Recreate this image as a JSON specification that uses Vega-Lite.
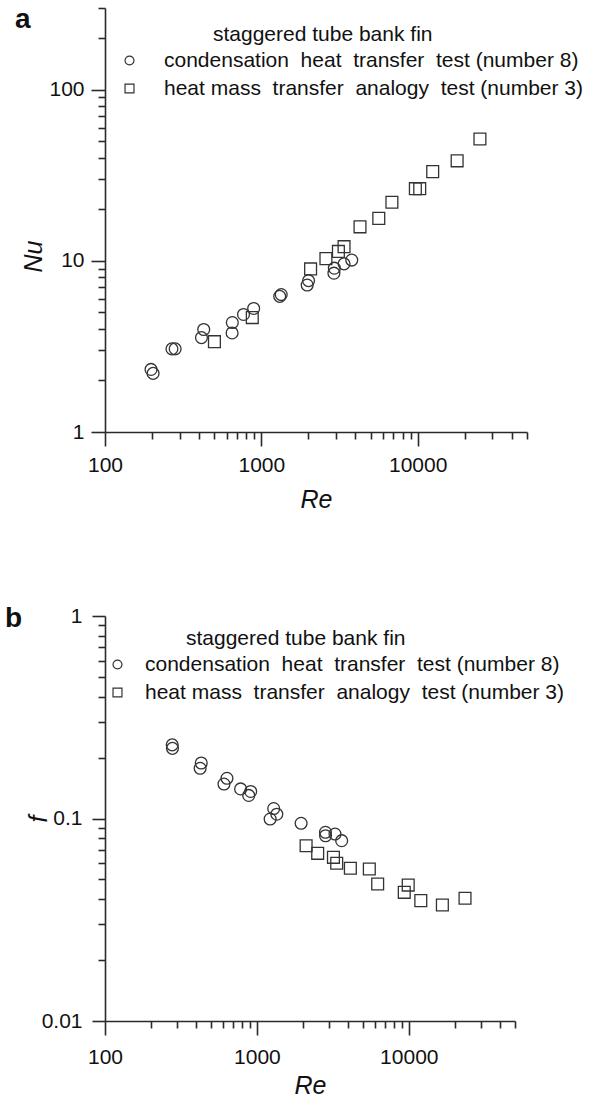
{
  "$schema": "https://vega.github.io/schema/vega-lite/v6.json",
  "background": "white",
  "padding": {"left": 5, "top": 6, "right": 0, "bottom": 0},
  "config": {
    "font": "Liberation Sans",
    "view": {"stroke": null},
    "axis": {
      "grid": false,
      "domainColor": "#2a2a2a",
      "domainWidth": 1.6,
      "tickColor": "#2a2a2a",
      "tickWidth": 1.6,
      "labelColor": "#111",
      "labelFont": "Liberation Sans",
      "labelOverlap": false,
      "labelFlush": false,
      "titleColor": "#111",
      "titleFont": "Liberation Sans",
      "titleFontSize": 25,
      "titleFontStyle": "italic",
      "titleFontWeight": "normal"
    },
    "legend": {
      "orient": "none",
      "padding": 0,
      "titleFont": "Liberation Sans",
      "titleFontSize": 21,
      "titleFontWeight": "normal",
      "titleColor": "#111",
      "titleAnchor": "start",
      "titlePadding": 5,
      "titleLimit": 600,
      "labelFont": "Liberation Sans",
      "labelFontSize": 21,
      "labelColor": "#111",
      "labelLimit": 600,
      "symbolSize": 80,
      "symbolStrokeColor": "#333",
      "symbolStrokeWidth": 1.2,
      "symbolFillColor": "transparent",
      "rowPadding": 6
    },
    "title": {
      "anchor": "start",
      "frame": "group",
      "fontSize": 28,
      "fontWeight": "bold",
      "color": "#111",
      "font": "Liberation Sans"
    }
  },
  "datasets": {
    "nusselt": [
      {"Re": 197, "Nu": 2.32, "test": "condensation heat transfer test (number 8)"},
      {"Re": 203, "Nu": 2.2, "test": "condensation heat transfer test (number 8)"},
      {"Re": 268, "Nu": 3.06, "test": "condensation heat transfer test (number 8)"},
      {"Re": 281, "Nu": 3.06, "test": "condensation heat transfer test (number 8)"},
      {"Re": 414, "Nu": 3.56, "test": "condensation heat transfer test (number 8)"},
      {"Re": 428, "Nu": 3.97, "test": "condensation heat transfer test (number 8)"},
      {"Re": 650, "Nu": 3.79, "test": "condensation heat transfer test (number 8)"},
      {"Re": 652, "Nu": 4.36, "test": "condensation heat transfer test (number 8)"},
      {"Re": 769, "Nu": 4.86, "test": "condensation heat transfer test (number 8)"},
      {"Re": 893, "Nu": 5.27, "test": "condensation heat transfer test (number 8)"},
      {"Re": 1310, "Nu": 6.2, "test": "condensation heat transfer test (number 8)"},
      {"Re": 1340, "Nu": 6.35, "test": "condensation heat transfer test (number 8)"},
      {"Re": 1964, "Nu": 7.22, "test": "condensation heat transfer test (number 8)"},
      {"Re": 2004, "Nu": 7.66, "test": "condensation heat transfer test (number 8)"},
      {"Re": 2912, "Nu": 8.47, "test": "condensation heat transfer test (number 8)"},
      {"Re": 2930, "Nu": 9.06, "test": "condensation heat transfer test (number 8)"},
      {"Re": 3380, "Nu": 9.6, "test": "condensation heat transfer test (number 8)"},
      {"Re": 3785, "Nu": 10.1, "test": "condensation heat transfer test (number 8)"},
      {"Re": 501, "Nu": 3.37, "test": "heat mass transfer analogy test (number 3)"},
      {"Re": 875, "Nu": 4.66, "test": "heat mass transfer analogy test (number 3)"},
      {"Re": 2065, "Nu": 8.97, "test": "heat mass transfer analogy test (number 3)"},
      {"Re": 2588, "Nu": 10.3, "test": "heat mass transfer analogy test (number 3)"},
      {"Re": 3110, "Nu": 11.35, "test": "heat mass transfer analogy test (number 3)"},
      {"Re": 3380, "Nu": 12.1, "test": "heat mass transfer analogy test (number 3)"},
      {"Re": 4275, "Nu": 15.8, "test": "heat mass transfer analogy test (number 3)"},
      {"Re": 5637, "Nu": 17.7, "test": "heat mass transfer analogy test (number 3)"},
      {"Re": 6838, "Nu": 22.0, "test": "heat mass transfer analogy test (number 3)"},
      {"Re": 9660, "Nu": 26.4, "test": "heat mass transfer analogy test (number 3)"},
      {"Re": 10300, "Nu": 26.4, "test": "heat mass transfer analogy test (number 3)"},
      {"Re": 12470, "Nu": 33.2, "test": "heat mass transfer analogy test (number 3)"},
      {"Re": 17870, "Nu": 38.4, "test": "heat mass transfer analogy test (number 3)"},
      {"Re": 25000, "Nu": 51.5, "test": "heat mass transfer analogy test (number 3)"}
    ],
    "friction": [
      {"Re": 277, "f": 0.231, "test": "condensation heat transfer test (number 8)"},
      {"Re": 278, "f": 0.222, "test": "condensation heat transfer test (number 8)"},
      {"Re": 430, "f": 0.188, "test": "condensation heat transfer test (number 8)"},
      {"Re": 423, "f": 0.177, "test": "condensation heat transfer test (number 8)"},
      {"Re": 635, "f": 0.158, "test": "condensation heat transfer test (number 8)"},
      {"Re": 607, "f": 0.148, "test": "condensation heat transfer test (number 8)"},
      {"Re": 781, "f": 0.14, "test": "condensation heat transfer test (number 8)"},
      {"Re": 910, "f": 0.136, "test": "condensation heat transfer test (number 8)"},
      {"Re": 883, "f": 0.13, "test": "condensation heat transfer test (number 8)"},
      {"Re": 1290, "f": 0.112, "test": "condensation heat transfer test (number 8)"},
      {"Re": 1352, "f": 0.105, "test": "condensation heat transfer test (number 8)"},
      {"Re": 1222, "f": 0.0994, "test": "condensation heat transfer test (number 8)"},
      {"Re": 1954, "f": 0.0947, "test": "condensation heat transfer test (number 8)"},
      {"Re": 2826, "f": 0.0855, "test": "condensation heat transfer test (number 8)"},
      {"Re": 2830, "f": 0.0822, "test": "condensation heat transfer test (number 8)"},
      {"Re": 3267, "f": 0.0838, "test": "condensation heat transfer test (number 8)"},
      {"Re": 3614, "f": 0.0777, "test": "condensation heat transfer test (number 8)"},
      {"Re": 2108, "f": 0.0734, "test": "heat mass transfer analogy test (number 3)"},
      {"Re": 2512, "f": 0.0673, "test": "heat mass transfer analogy test (number 3)"},
      {"Re": 3190, "f": 0.0643, "test": "heat mass transfer analogy test (number 3)"},
      {"Re": 3352, "f": 0.0601, "test": "heat mass transfer analogy test (number 3)"},
      {"Re": 4123, "f": 0.0568, "test": "heat mass transfer analogy test (number 3)"},
      {"Re": 5495, "f": 0.0563, "test": "heat mass transfer analogy test (number 3)"},
      {"Re": 6237, "f": 0.0475, "test": "heat mass transfer analogy test (number 3)"},
      {"Re": 9333, "f": 0.0432, "test": "heat mass transfer analogy test (number 3)"},
      {"Re": 9908, "f": 0.0469, "test": "heat mass transfer analogy test (number 3)"},
      {"Re": 11990, "f": 0.0393, "test": "heat mass transfer analogy test (number 3)"},
      {"Re": 16630, "f": 0.0374, "test": "heat mass transfer analogy test (number 3)"},
      {"Re": 23440, "f": 0.0404, "test": "heat mass transfer analogy test (number 3)"}
    ]
  },
  "spacing": 93,
  "resolve": {
    "scale": {"x": "independent", "y": "independent", "shape": "independent"},
    "legend": {"shape": "independent"}
  },
  "vconcat": [
    {
      "width": 422,
      "height": 424,
      "title": {"text": "a", "dx": -90, "offset": -27},
      "data": {"name": "nusselt"},
      "mark": {"type": "point", "filled": false, "color": "#333", "strokeWidth": 1.3, "size": 140, "opacity": 1},
      "encoding": {
        "x": {
          "field": "Re",
          "type": "quantitative",
          "scale": {"type": "log", "domain": [100, 50000], "nice": false},
          "axis": {
            "title": "Re",
            "values": [100, 200, 300, 400, 500, 600, 700, 800, 900, 1000, 2000, 3000, 4000, 5000, 6000, 7000, 8000, 9000, 10000, 20000, 30000, 40000, 50000],
            "format": "d",
            "labelExpr": "indexof([100, 1000, 10000], datum.value) >= 0 ? datum.label : ''",
            "labelFontSize": {"condition": {"test": "indexof([100, 1000, 10000], datum.value) >= 0", "value": 21}, "value": 0},
            "tickSize": {"condition": {"test": "indexof([100, 1000, 10000], datum.value) >= 0", "value": 14}, "value": 7},
            "labelPadding": 8,
            "titlePadding": 12
          }
        },
        "y": {
          "field": "Nu",
          "type": "quantitative",
          "scale": {"type": "log", "domain": [1, 300], "nice": false},
          "axis": {
            "title": "Nu",
            "titleY": 248,
            "values": [1, 2, 3, 4, 5, 6, 7, 8, 9, 10, 20, 30, 40, 50, 60, 70, 80, 90, 100, 200, 300],
            "format": "d",
            "labelExpr": "indexof([1, 10, 100], datum.value) >= 0 ? datum.label : ''",
            "labelFontSize": {"condition": {"test": "indexof([1, 10, 100], datum.value) >= 0", "value": 21}, "value": 0},
            "tickSize": {"condition": {"test": "indexof([1, 10, 100], datum.value) >= 0", "value": 14}, "value": 7},
            "labelPadding": 7,
            "titlePadding": 2
          }
        },
        "shape": {
          "field": "test",
          "type": "nominal",
          "scale": {
            "domain": ["condensation heat transfer test (number 8)", "heat mass transfer analogy test (number 3)"],
            "range": ["circle", "square"]
          },
          "legend": {
            "title": "staggered tube bank fin",
            "legendX": 108,
            "legendY": 16,
            "symbolOffset": -94,
            "labelOffset": 24,
            "labelExpr": "datum.label == 'condensation heat transfer test (number 8)' ? 'condensation\u00a0 heat\u00a0 transfer\u00a0 test (number 8)' : 'heat mass\u00a0 transfer\u00a0 analogy\u00a0 test (number 3)'"
          }
        }
      }
    },
    {
      "width": 410,
      "height": 405,
      "title": {"text": "b", "dx": -100, "offset": -28},
      "data": {"name": "friction"},
      "mark": {"type": "point", "filled": false, "color": "#333", "strokeWidth": 1.3, "size": 140, "opacity": 1},
      "encoding": {
        "x": {
          "field": "Re",
          "type": "quantitative",
          "scale": {"type": "log", "domain": [100, 50000], "nice": false},
          "axis": {
            "title": "Re",
            "values": [100, 200, 300, 400, 500, 600, 700, 800, 900, 1000, 2000, 3000, 4000, 5000, 6000, 7000, 8000, 9000, 10000, 20000, 30000, 40000, 50000],
            "format": "d",
            "labelExpr": "indexof([100, 1000, 10000], datum.value) >= 0 ? datum.label : ''",
            "labelFontSize": {"condition": {"test": "indexof([100, 1000, 10000], datum.value) >= 0", "value": 21}, "value": 0},
            "tickSize": {"condition": {"test": "indexof([100, 1000, 10000], datum.value) >= 0", "value": 14}, "value": 7},
            "labelPadding": 11,
            "titlePadding": 6
          }
        },
        "y": {
          "field": "f",
          "type": "quantitative",
          "scale": {"type": "log", "domain": [0.01, 1], "nice": false},
          "axis": {
            "title": "f",
            "values": [0.01, 0.02, 0.03, 0.04, 0.05, 0.06, 0.07, 0.08, 0.09, 0.1, 0.2, 0.3, 0.4, 0.5, 0.6, 0.7, 0.8, 0.9, 1],
            "format": ".2~f",
            "labelExpr": "indexof([0.01, 0.1, 1], datum.value) >= 0 ? datum.label : ''",
            "labelFontSize": {"condition": {"test": "indexof([0.01, 0.1, 1], datum.value) >= 0", "value": 21}, "value": 0},
            "tickSize": {"condition": {"test": "indexof([0.01, 0.1, 1], datum.value) >= 0", "value": 13}, "value": 7},
            "labelPadding": 10,
            "titlePadding": -10
          }
        },
        "shape": {
          "field": "test",
          "type": "nominal",
          "scale": {
            "domain": ["condensation heat transfer test (number 8)", "heat mass transfer analogy test (number 3)"],
            "range": ["circle", "square"]
          },
          "legend": {
            "title": "staggered tube bank fin",
            "legendX": 81,
            "legendY": 12,
            "symbolOffset": -79,
            "labelOffset": 17,
            "labelExpr": "datum.label == 'condensation heat transfer test (number 8)' ? 'condensation\u00a0 heat\u00a0 transfer\u00a0 test (number 8)' : 'heat mass\u00a0 transfer\u00a0 analogy\u00a0 test (number 3)'"
          }
        }
      }
    }
  ]
}
